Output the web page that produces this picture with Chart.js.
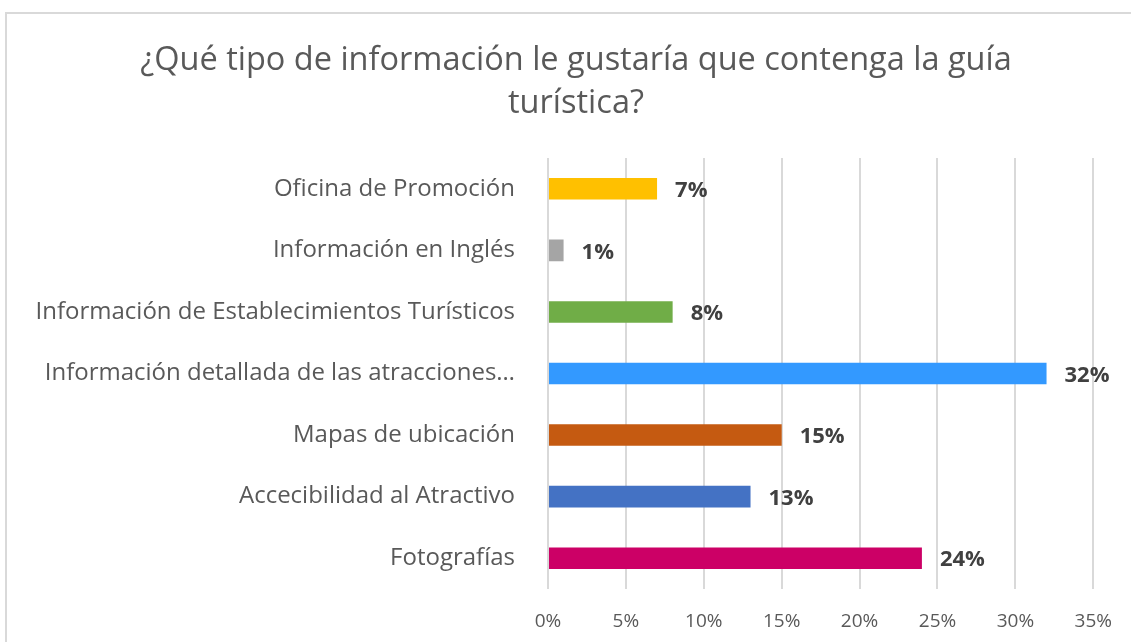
<!DOCTYPE html>
<html>
<head>
<meta charset="utf-8">
<script src="https://cdn.jsdelivr.net/npm/chart.js@4.4.1/dist/chart.umd.min.js"></script>
<style>
    html, body { margin: 0; padding: 0; background: #fff; }
    #wrap {
        position: absolute; left: 5px; top: 12px;
        width: 1126px; height: 630px;
        border-left: 2px solid #d9d9d9; border-top: 2px solid #d9d9d9;
    }
    #chart { position: absolute; left: 0; top: 0; }
</style>
</head>
<body>
<div id="wrap"><canvas id="chart" width="1126" height="630"></canvas></div>
<script>
// Dati del grafico
const categorie = [
    'Oficina de Promoción',
    'Información en Inglés',
    'Información de Establecimientos Turísticos',
    'Información detallada de las atracciones…',
    'Mapas de ubicación',
    'Accecibilidad al Atractivo',
    'Fotografías'
];
const percentuali = [7, 1, 8, 32, 15, 13, 24];
const colori = ['#ffc000', '#a5a5a5', '#70ad47', '#3399ff', '#c55a11', '#4472c4', '#cc0066'];
const titolo = ['¿Qué tipo de información le gustaría que contenga la guía', 'turística?'];

const fontBase = "'Open Sans', 'Noto Sans', sans-serif";

// Titolo su due righe, centrato sul riquadro
const titoloCentrato = {
    id: 'titoloCentrato',
    beforeDraw(chart) {
        const ctx = chart.ctx;
        ctx.save();
        ctx.font = '32.5px ' + fontBase;
        ctx.fillStyle = '#595959';
        ctx.textAlign = 'center';
        ctx.textBaseline = 'middle';
        titolo.forEach((riga, i) => {
            ctx.fillText(riga, chart.width / 2 + 6, 47 + i * 43);
        });
        ctx.restore();
    }
};

// Plugin per le etichette dei valori
const etichetteValori = {
    id: 'etichetteValori',
    afterDatasetsDraw(chart) {
        const ctx = chart.ctx;
        const meta = chart.getDatasetMeta(0);
        ctx.save();
        ctx.font = 'bold 22px ' + fontBase;
        ctx.fillStyle = '#404040';
        ctx.textBaseline = 'middle';
        ctx.textAlign = 'left';
        meta.data.forEach((bar, i) => {
            ctx.fillText(percentuali[i] + '%', bar.x + 18, bar.y + 2);
        });
        ctx.restore();
    }
};

const ctx = document.getElementById('chart').getContext('2d');
new Chart(ctx, {
    type: 'bar',
    data: {
        labels: categorie,
        datasets: [{
            data: percentuali,
            backgroundColor: colori,
            barPercentage: 0.7,
            categoryPercentage: 0.5
        }]
    },
    options: {
        indexAxis: 'y',
        responsive: false,
        animation: false,
        layout: { padding: { top: 144, right: 30, bottom: 0, left: 0 } },
        plugins: {
            legend: { display: false },
            tooltip: { enabled: false },
            title: { display: false }
        },
        scales: {
            x: {
                min: 0,
                max: 35,
                afterFit: scale => { scale.height = 55; },
                ticks: {
                    stepSize: 5,
                    color: '#595959',
                    font: { family: fontBase, size: 19 },
                    padding: 21,
                    callback: v => v + '%'
                },
                grid: { color: '#d9d9d9', lineWidth: 2, drawTicks: false },
                border: { display: false }
            },
            y: {
                afterFit: scale => { scale.width = 541; },
                ticks: {
                    color: '#595959',
                    font: { family: fontBase, size: 24 },
                    padding: 33
                },
                grid: { display: false, drawTicks: false },
                border: { display: false }
            }
        }
    },
    plugins: [titoloCentrato, etichetteValori]
});
</script>
</body>
</html>
